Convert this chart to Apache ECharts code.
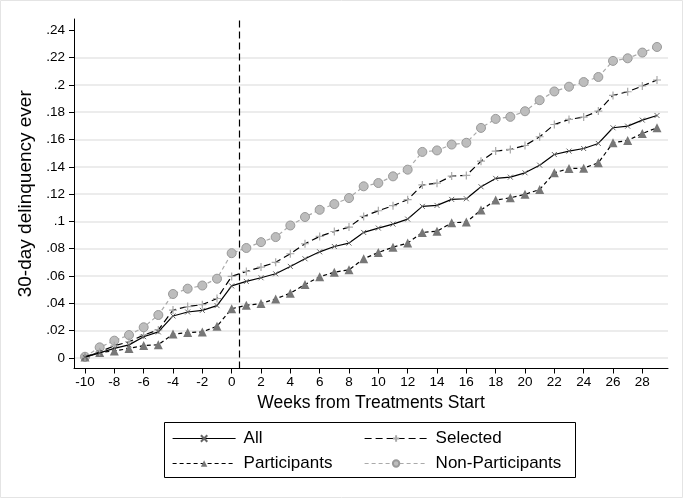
<!DOCTYPE html>
<html>
<head>
<meta charset="utf-8">
<script src="https://cdn.jsdelivr.net/npm/echarts@6/dist/echarts.min.js"></script>
<style>
html,body{margin:0;padding:0;background:#fff;}
#chart{width:683px;height:498px;}
</style>
</head>
<body>
<div id="chart"></div>
<script>
// ---- data ----
const weeks = [-10,-9,-8,-7,-6,-5,-4,-3,-2,-1,0,1,2,3,4,5,6,7,8,9,10,11,12,13,14,15,16,17,18,19,20,21,22,23,24,25,26,27,28,29];
const allValues = [0.0005,0.0037,0.0069,0.0095,0.0155,0.019,0.0307,0.0336,0.0348,0.0383,0.0527,0.056,0.0587,0.0616,0.067,0.0726,0.0777,0.0816,0.0841,0.0919,0.0951,0.098,0.1017,0.111,0.1117,0.1161,0.1166,0.1254,0.1315,0.1324,0.1356,0.1412,0.149,0.1515,0.1534,0.1571,0.1686,0.1698,0.1742,0.1776];
const selectedValues = [0.0006,0.0045,0.0088,0.0118,0.0167,0.0205,0.035,0.0376,0.039,0.0435,0.0597,0.0633,0.0665,0.070,0.0763,0.0836,0.089,0.0926,0.0958,0.1036,0.1078,0.1115,0.1159,0.1267,0.128,0.1332,0.1337,0.1441,0.1515,0.1527,0.1556,0.162,0.171,0.1747,0.1764,0.1808,0.1923,0.195,0.1992,0.2036];
const participantValues = [0.0007,0.004,0.005,0.0069,0.009,0.0096,0.0174,0.0185,0.019,0.0232,0.036,0.0385,0.0398,0.0432,0.0474,0.0538,0.0594,0.0628,0.0645,0.0726,0.0772,0.0811,0.0841,0.0919,0.0928,0.099,0.0995,0.1083,0.1156,0.1173,0.1198,0.1234,0.1356,0.1387,0.139,0.1429,0.1576,0.1593,0.1644,0.1686];
const nonParticipantValues = [0.0008,0.0077,0.0126,0.0167,0.0224,0.0314,0.0468,0.0507,0.053,0.058,0.0767,0.0805,0.0848,0.0885,0.097,0.1032,0.1085,0.1127,0.1171,0.1257,0.1281,0.133,0.1379,0.1509,0.152,0.1563,0.1576,0.1685,0.1751,0.1766,0.1807,0.1888,0.1952,0.1987,0.2021,0.2058,0.2176,0.2195,0.2237,0.2278];
const seriesNames = ['All','Selected','Participants','Non-Participants'];
const yTicks = [0,0.02,0.04,0.06,0.08,0.1,0.12,0.14,0.16,0.18,0.2,0.22,0.24];
const yTickLabels = ['0','.02','.04','.06','.08','.1','.12','.14','.16','.18','.2','.22','.24'];
const xTicks = [-10,-8,-6,-4,-2,0,2,4,6,8,10,12,14,16,18,20,22,24,26,28];
const treatmentLine = 0.5;
const xTitle = 'Weeks from Treatments Start';
const yTitle = '30-day delinquency ever';

const pairs = vals => weeks.map((w,i)=>[w, vals[i]]);
const FONT = '"Liberation Sans", Arial, sans-serif';

const chart = echarts.init(document.getElementById('chart'), null, {renderer:'canvas'});

const gridLines = yTicks.filter(v => v < 0.235).map(v => ({yAxis: v}));

const option = {
  animation: false,
  backgroundColor: '#fff',
  textStyle: {fontFamily: FONT},
  grid: {left: 74, top: 19, width: 594, height: 349.5, containLabel: false},
  xAxis: {
    type: 'value', min: -10.75, max: 29.75,
    name: xTitle, nameLocation: 'middle', nameGap: 22,
    nameTextStyle: {fontSize: 17.5, color: '#000', fontFamily: FONT},
    axisLine: {show: true, onZero: false, lineStyle: {color: '#000', width: 1}},
    axisTick: {show: true, customValues: xTicks, length: 5, lineStyle: {color: '#000'}},
    axisLabel: {customValues: xTicks, fontSize: 13.5, color: '#000', margin: 7, fontFamily: FONT},
    splitLine: {show: false}
  },
  yAxis: {
    type: 'value', min: -0.0078, max: 0.2483,
    name: yTitle, nameLocation: 'middle', nameGap: 35, nameRotate: 90,
    nameTextStyle: {fontSize: 19, color: '#000', fontFamily: FONT},
    axisLine: {show: true, onZero: false, lineStyle: {color: '#000', width: 1}},
    axisTick: {show: true, customValues: yTicks, length: 5, lineStyle: {color: '#000'}},
    axisLabel: {customValues: yTicks, fontSize: 13.5, color: '#000', margin: 9, fontFamily: FONT,
      formatter: v => { const i = yTicks.findIndex(t => Math.abs(t - v) < 1e-9); return i >= 0 ? yTickLabels[i] : ''; }},
    splitLine: {show: false}
  },
  series: [
    {
      name: 'gridlines', type: 'line', data: [], silent: true, z: 0,
      markLine: {silent: true, symbol: 'none', label: {show: false}, z: 0,
        lineStyle: {color: '#e6e6e6', width: 1.5, type: 'solid'}, data: gridLines}
    },
    {
      name: seriesNames[0], type: 'line', data: pairs(allValues), z: 5,
      lineStyle: {color: '#000', width: 1.2, type: 'solid'},
      symbol: 'path://M0,0L10,10M10,0L0,10', symbolSize: 5,
      itemStyle: {color: '#666', borderColor: '#666', borderWidth: 1},
      markLine: {silent: true, symbol: 'none', label: {show: false},
        lineStyle: {color: '#000', width: 1.2, type: [7, 4]}, data: [{xAxis: treatmentLine}]}
    },
    {
      name: seriesNames[1], type: 'line', data: pairs(selectedValues), z: 4,
      lineStyle: {color: '#000', width: 1.2, type: [7, 4]},
      symbol: 'path://M5,0L5,10M0,5L10,5', symbolSize: 8,
      itemStyle: {color: '#aaa', borderColor: '#aaa', borderWidth: 1.2}
    },
    {
      name: seriesNames[2], type: 'line', data: pairs(participantValues), z: 3,
      lineStyle: {color: '#000', width: 1.2, type: [4, 3]},
      symbol: 'triangle', symbolSize: 9,
      itemStyle: {color: '#777', borderWidth: 0}
    },
    {
      name: seriesNames[3], type: 'line', data: pairs(nonParticipantValues), z: 2,
      lineStyle: {color: '#aaa', width: 1.2, type: [4, 3]},
      symbol: 'circle', symbolSize: 9,
      itemStyle: {color: '#bdbdbd', borderColor: '#999', borderWidth: 1}
    }
  ],
  legend: [
    {data: [seriesNames[0]], left: 172, top: 430},
    {data: [seriesNames[1]], left: 364, top: 430},
    {data: [seriesNames[2]], left: 172, top: 455},
    {data: [seriesNames[3]], left: 364, top: 455}
  ].map(l => Object.assign({
    orient: 'horizontal', itemWidth: 63, itemHeight: 8, itemGap: 0, padding: 0,
    selectedMode: false,
    lineStyle: {width: 1.2},
    textStyle: {fontSize: 17, color: '#000', fontFamily: FONT, padding: [0,0,0,3]}
  }, l)),
  graphic: [
    {type: 'rect', shape: {x: 164.5, y: 422.5, width: 411, height: 55}, silent: true,
      style: {fill: 'none', stroke: '#000', lineWidth: 1}},
    {type: 'rect', shape: {x: 0.5, y: 0.5, width: 682, height: 497}, silent: true,
      style: {fill: 'none', stroke: '#e4e4e4', lineWidth: 1}}
  ]
};
chart.setOption(option);
</script>
</body>
</html>
